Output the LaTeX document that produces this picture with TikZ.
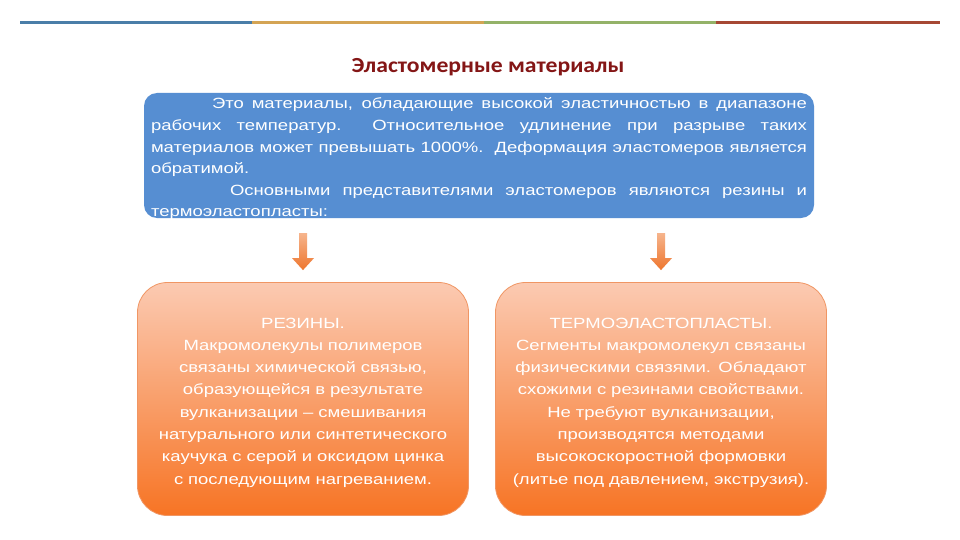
\documentclass[tikz,border=0pt]{standalone}
\usepackage{fontspec}
\setmainfont{Liberation Sans}
\newfontfamily\boxfont[FakeStretch=1.25]{Liberation Sans}
\newfontfamily\titlefont[FakeStretch=1.1]{Carlito}
\usetikzlibrary{calc}
\definecolor{lineblue}{RGB}{74,126,168}
\definecolor{linegold}{RGB}{212,164,84}
\definecolor{linegreen}{RGB}{148,178,104}
\definecolor{linered}{RGB}{166,72,52}
\definecolor{titlered}{RGB}{132,22,22}
\definecolor{boxblue}{RGB}{86,142,210}
\definecolor{peach}{RGB}{251,202,178}
\definecolor{deeporange}{RGB}{247,116,36}
\definecolor{oborder}{RGB}{240,150,100}
\definecolor{arrowtop}{RGB}{246,180,140}
\definecolor{arrowbot}{RGB}{238,118,46}
\begin{document}
\begin{tikzpicture}[x=1pt,y=-1pt,
  topline/.style={line width=3pt},
  titlestyle/.style={font=\titlefont\bfseries\fontsize{21.5}{26}\selectfont, text=titlered},
  bluebox/.style={fill=boxblue, rounded corners=13pt, minimum width=670pt, minimum height=125pt,
    text width=656pt, inner xsep=7pt, inner ysep=0pt, align=justify, text=white,
    font=\boxfont\fontsize{14.8}{21.6}\selectfont},
  obox/.style={draw=oborder, line width=0.8pt, top color=peach, bottom color=deeporange,
    rounded corners=30pt, minimum width=331pt, minimum height=233pt, text width=322pt,
    align=center, text=white, font=\boxfont\fontsize{14.8}{22.3}\selectfont},
  arrowshade/.style={top color=arrowtop, bottom color=arrowbot}
]
\useasboundingbox (0,0) rectangle (960,540);
\fill[white] (0,0) rectangle (960,540);
% top coloured rule
\draw[topline, lineblue] (20,23) -- (252,23);
\draw[topline, linegold] (252,23) -- (484,23);
\draw[topline, linegreen] (484,23) -- (716,23);
\draw[topline, linered] (716,23) -- (940,23);

\node[titlestyle] (title) at (488,67) {Эластомерные материалы};

\node[bluebox] (desc) at (479,155.5) {\hspace*{61pt}Это материалы, обладающие высокой эластичностью в диапазоне\linebreak
рабочих температур.\ \ Относительное удлинение при разрыве таких\linebreak
материалов может превышать 1000\%.\ \ Деформация эластомеров является\linebreak
обратимой.\par
\hspace*{79pt}Основными представителями эластомеров являются резины и\linebreak
термоэластопласты:\par\vspace*{-7pt}};

\node[obox] (rez) at (303,399) {РЕЗИНЫ.\\
Макромолекулы полимеров\\
связаны химической связью,\\
образующейся в результате\\
вулканизации – смешивания\\
натурального или синтетического\\
каучука с серой и оксидом цинка\\
с последующим нагреванием.\par\vspace*{-7pt}};

\node[obox] (tep) at (661,399) {ТЕРМОЭЛАСТОПЛАСТЫ.\\
Сегменты макромолекул связаны\\
физическими связями. Обладают\\
схожими с резинами свойствами.\\
Не требуют вулканизации,\\
производятся методами\\
высокоскоростной формовки\\
(литье под давлением, экструзия).\par\vspace*{-7pt}};

% block arrows
\path (desc.south -| rez.north) ++(0,15) coordinate (a1s);
\path (rez.north) ++(0,-12) coordinate (a1e);
\path (desc.south -| tep.north) ++(0,15) coordinate (a2s);
\path (tep.north) ++(0,-12) coordinate (a2e);
\foreach \s/\e in {a1s/a1e, a2s/a2e}{
  \shade[arrowshade] ($(\s)+(-4,0)$) -- ($(\s)+(4,0)$) -- ($(\e)+(4,-12)$) -- ($(\e)+(11,-12)$)
    -- (\e) -- ($(\e)+(-11,-12)$) -- ($(\e)+(-4,-12)$) -- cycle;
}
\end{tikzpicture}
\end{document}
